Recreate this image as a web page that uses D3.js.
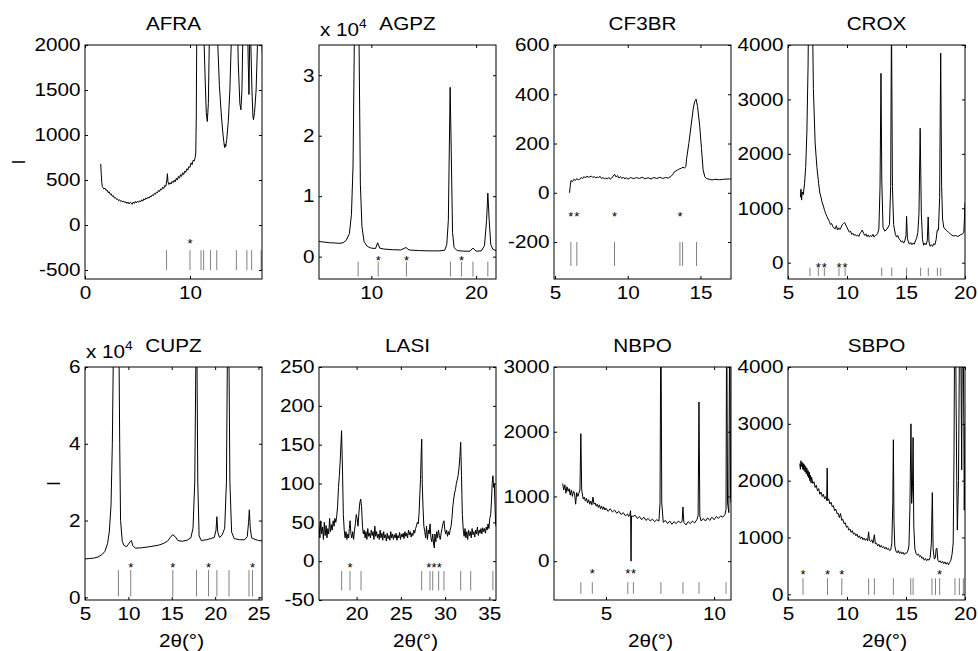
<!DOCTYPE html>
<html>
<head>
<meta charset="utf-8">
<title>diffraction patterns, 8 samples</title>
<script src="https://d3js.org/d3.v7.min.js"></script>
<style>
body{ margin:0; background:#fff; }
svg text{ font-family:"Liberation Sans", Arial, sans-serif; fill:#000; }
</style>
</head>
<body>
<svg class="chart" width="978" height="651"></svg>
<script>

//sample names, in reading order
var names = ["AFRA", "AGPZ", "CF3BR", "CROX", "CUPZ", "LASI", "NBPO", "SBPO"];

//measured patterns: [2theta, intensity]
var afraCurve = [[1.5,680],[1.55,560],[1.6,470],[1.65,430],[1.7,415],[1.8,400],[1.9,410],[2.0,385],[2.1,390],[2.2,360],[2.3,370],[2.4,340],[2.5,345],[2.6,320],[2.7,325],[2.8,300],[2.9,305],[3.0,285],[3.1,290],[3.2,270],[3.3,280],[3.4,262],[3.5,270],[3.6,255],[3.7,265],[3.8,248],[3.9,258],[4.0,240],[4.1,255],[4.2,235],[4.3,252],[4.4,245],[4.5,230],[4.6,255],[4.7,240],[4.8,262],[4.9,245],[5.0,265],[5.1,252],[5.2,270],[5.3,258],[5.4,280],[5.5,265],[5.6,290],[5.7,278],[5.8,300],[5.9,290],[6.0,310],[6.1,298],[6.2,320],[6.3,312],[6.4,335],[6.5,325],[6.6,350],[6.7,340],[6.8,365],[6.9,358],[7.0,385],[7.1,372],[7.2,400],[7.3,390],[7.4,420],[7.5,405],[7.6,440],[7.7,430],[7.8,500],[7.85,570],[7.9,480],[8.0,450],[8.1,470],[8.2,455],[8.3,485],[8.4,470],[8.5,500],[8.6,480],[8.7,520],[8.8,500],[8.9,540],[9.0,520],[9.1,560],[9.2,540],[9.3,580],[9.4,560],[9.5,600],[9.6,585],[9.7,625],[9.8,610],[9.9,650],[10.0,640],[10.1,690],[10.2,670],[10.3,720],[10.4,710],[10.5,750],[10.55,800],[10.6,1200],[10.65,2200],[10.75,5000],[10.9,3200],[11.1,2600],[11.3,2200],[11.45,1600],[11.55,1250],[11.65,1150],[11.75,1350],[11.85,2100],[12.0,5000],[12.3,4000],[12.5,2600],[12.65,2000],[12.8,1550],[13.0,1200],[13.15,1000],[13.25,900],[13.3,860],[13.35,900],[13.4,870],[13.5,950],[13.65,1150],[13.8,1500],[13.95,2100],[14.1,4500],[14.4,3000],[14.6,1800],[14.75,1350],[14.85,1280],[14.95,1500],[15.05,2200],[15.25,5000],[15.45,2500],[15.55,1800],[15.62,1450],[15.7,2200],[15.8,2000],[15.9,1500],[16.0,1200],[16.05,1170],[16.15,1250],[16.3,1500],[16.45,2100],[16.6,4500],[16.8,2200],[16.9,1900]];
var agpzCurve = [[5.0,2500],[5.5,2400],[6.0,2300],[6.5,2250],[7.0,2200],[7.3,2300],[7.6,2700],[7.9,3800],[8.1,7000],[8.25,15000],[8.4,40000],[8.6,80000],[8.8,40000],[8.95,12000],[9.1,5000],[9.3,2500],[9.6,1700],[10.0,1400],[10.4,1350],[10.6,2300],[10.8,1400],[11.2,1250],[12.0,1150],[12.8,1100],[13.3,1500],[13.6,1100],[14.5,1000],[15.5,950],[16.5,950],[17.0,1050],[17.2,2000],[17.35,6000],[17.52,28000],[17.62,18000],[17.75,4000],[17.9,1500],[18.2,1000],[18.8,900],[19.4,900],[19.7,1400],[20.0,900],[20.5,950],[20.8,1800],[21.0,6000],[21.12,10500],[21.25,6000],[21.4,2000],[21.6,1200],[21.9,1000]];
var cf3brCurve = [[6.0,0],[6.05,30],[6.1,50],[6.2,45],[6.3,55],[6.4,50],[6.5,58],[6.6,52],[6.7,55],[6.8,62],[6.9,58],[7.0,66],[7.1,60],[7.2,68],[7.3,63],[7.4,65],[7.5,68],[7.6,62],[7.7,66],[7.8,60],[7.9,64],[8.0,62],[8.1,67],[8.2,58],[8.3,62],[8.4,57],[8.5,60],[8.6,56],[8.7,62],[8.8,55],[8.9,60],[9.0,68],[9.1,75],[9.2,64],[9.3,70],[9.4,60],[9.5,66],[9.6,58],[9.7,64],[9.8,56],[9.9,62],[10.0,55],[10.2,62],[10.4,57],[10.6,62],[10.8,58],[11.0,63],[11.2,57],[11.4,61],[11.6,56],[11.8,62],[12.0,58],[12.2,63],[12.4,58],[12.6,62],[12.8,60],[13.0,68],[13.1,75],[13.2,85],[13.3,88],[13.4,92],[13.5,95],[13.6,98],[13.7,100],[13.8,104],[13.9,100],[14.0,108],[14.05,140],[14.2,200],[14.35,270],[14.5,340],[14.6,370],[14.7,380],[14.8,350],[14.95,270],[15.07,180],[15.18,94],[15.3,65],[15.4,58],[15.6,55],[15.8,52],[16.0,55],[16.3,53],[16.6,55],[17.0,56],[17.1,56]];
var croxCurve = [[6.05,1200],[6.1,1350],[6.15,1150],[6.2,1300],[6.3,1250],[6.4,1450],[6.5,1750],[6.6,2400],[6.7,3600],[6.8,6000],[6.95,8000],[7.05,5000],[7.15,3200],[7.3,2200],[7.45,1750],[7.6,1450],[7.7,1280],[7.8,1200],[7.9,1100],[8.0,1040],[8.1,960],[8.2,900],[8.3,850],[8.4,800],[8.5,760],[8.6,700],[8.7,720],[8.8,660],[8.9,640],[9.0,620],[9.1,680],[9.2,600],[9.3,640],[9.4,610],[9.5,650],[9.6,700],[9.7,720],[9.8,740],[9.9,690],[10.0,650],[10.1,600],[10.2,560],[10.3,580],[10.4,520],[10.5,540],[10.6,500],[10.7,520],[10.8,490],[10.9,510],[11.0,480],[11.1,540],[11.2,560],[11.3,600],[11.4,540],[11.5,500],[11.6,530],[11.7,480],[11.8,510],[11.9,470],[12.0,500],[12.1,480],[12.2,520],[12.3,470],[12.4,500],[12.5,510],[12.6,540],[12.7,620],[12.8,1400],[12.88,3480],[12.95,1500],[13.05,650],[13.2,580],[13.4,620],[13.6,700],[13.7,1400],[13.77,4500],[13.85,1400],[13.95,700],[14.1,520],[14.2,470],[14.3,500],[14.4,440],[14.5,420],[14.6,380],[14.7,400],[14.8,360],[14.9,400],[15.0,500],[15.05,850],[15.12,450],[15.2,380],[15.3,340],[15.4,370],[15.5,330],[15.6,360],[15.7,340],[15.8,400],[15.9,450],[16.0,550],[16.1,900],[16.2,2470],[16.3,900],[16.4,420],[16.5,320],[16.6,360],[16.7,330],[16.8,400],[16.88,840],[16.95,380],[17.05,300],[17.15,330],[17.25,300],[17.35,350],[17.45,330],[17.55,420],[17.65,600],[17.75,600],[17.85,1200],[17.94,3850],[18.02,1400],[18.1,800],[18.2,650],[18.3,620],[18.4,600],[18.6,560],[18.8,520],[19.0,490],[19.2,500],[19.4,480],[19.6,510],[19.8,530],[19.9,560],[19.95,800],[20.0,1100]];
var cupzCurve = [[5.0,10000],[5.5,10100],[6.0,10200],[6.5,10500],[7.0,11200],[7.3,12000],[7.6,14000],[7.8,17000],[8.0,24000],[8.15,40000],[8.3,70000],[8.6,90000],[8.9,70000],[9.0,40000],[9.1,20000],[9.3,14500],[9.5,13500],[9.8,13200],[10.0,13800],[10.2,14500],[10.35,14800],[10.5,13500],[10.8,12800],[11.5,12900],[12.5,13200],[13.5,13600],[14.0,14000],[14.5,14600],[14.8,15500],[15.1,16300],[15.4,15800],[15.7,14800],[16.2,14600],[16.8,14900],[17.2,15500],[17.45,18000],[17.65,30000],[17.85,80000],[18.0,30000],[18.15,16000],[18.4,14800],[19.0,15000],[19.5,15300],[19.9,15600],[20.1,17500],[20.2,21000],[20.3,17000],[20.5,15600],[20.8,16200],[21.1,18000],[21.3,30000],[21.5,90000],[21.7,30000],[21.9,17000],[22.2,15300],[22.8,15000],[23.4,15000],[23.7,15800],[23.85,19500],[23.94,22800],[24.05,18000],[24.2,15500],[24.6,15100],[25.0,14800],[25.4,14700]];
var lasiCurve = [[15.75,48],[15.85,30],[15.95,52],[16.05,35],[16.15,44],[16.25,28],[16.35,50],[16.45,33],[16.55,46],[16.65,30],[16.75,42],[16.85,35],[16.95,55],[17.05,38],[17.15,47],[17.25,40],[17.35,52],[17.45,45],[17.55,55],[17.65,50],[17.75,58],[17.85,70],[17.95,95],[18.05,110],[18.15,130],[18.3,168],[18.4,120],[18.5,60],[18.6,40],[18.7,30],[18.8,38],[18.9,28],[19.0,35],[19.1,30],[19.18,42],[19.26,52],[19.36,35],[19.46,30],[19.56,38],[19.66,28],[19.76,40],[19.86,48],[19.96,60],[20.06,55],[20.16,45],[20.26,62],[20.36,75],[20.46,80],[20.56,70],[20.66,45],[20.76,35],[20.86,40],[20.96,30],[21.06,38],[21.16,28],[21.26,42],[21.36,32],[21.46,36],[21.56,30],[21.66,40],[21.76,33],[21.86,38],[21.96,28],[22.06,45],[22.16,32],[22.26,38],[22.36,30],[22.46,35],[22.56,28],[22.66,40],[22.76,30],[22.86,36],[22.96,27],[23.06,38],[23.16,30],[23.26,34],[23.36,26],[23.46,36],[23.56,29],[23.66,33],[23.76,27],[23.86,38],[23.96,30],[24.06,35],[24.16,28],[24.26,34],[24.36,30],[24.46,36],[24.56,27],[24.66,33],[24.76,30],[24.86,37],[24.96,28],[25.06,35],[25.16,31],[25.26,36],[25.36,29],[25.46,38],[25.56,32],[25.66,36],[25.76,30],[25.86,40],[25.96,34],[26.06,38],[26.16,31],[26.26,36],[26.36,33],[26.46,40],[26.56,36],[26.66,42],[26.76,45],[26.86,50],[26.96,48],[27.06,62],[27.14,85],[27.22,105],[27.3,140],[27.36,157],[27.42,100],[27.5,70],[27.6,45],[27.7,38],[27.8,30],[27.9,45],[28.0,28],[28.1,40],[28.2,35],[28.3,48],[28.4,30],[28.5,25],[28.6,35],[28.7,22],[28.78,17],[28.85,35],[28.95,25],[29.05,38],[29.15,30],[29.25,40],[29.35,33],[29.45,28],[29.55,36],[29.65,42],[29.75,48],[29.87,52],[29.97,40],[30.07,35],[30.17,40],[30.27,32],[30.37,38],[30.47,34],[30.57,40],[30.67,45],[30.77,55],[30.87,70],[30.97,80],[31.07,88],[31.17,92],[31.27,100],[31.37,105],[31.47,110],[31.57,120],[31.67,135],[31.76,153],[31.85,110],[31.95,60],[32.05,40],[32.15,32],[32.25,42],[32.35,30],[32.45,38],[32.55,28],[32.65,40],[32.75,33],[32.85,38],[32.95,30],[33.05,42],[33.15,34],[33.25,38],[33.35,31],[33.45,40],[33.55,35],[33.65,44],[33.75,33],[33.85,40],[33.95,36],[34.05,42],[34.15,35],[34.25,43],[34.35,38],[34.45,42],[34.55,36],[34.65,44],[34.75,40],[34.85,48],[34.95,42],[35.05,55],[35.15,60],[35.25,80],[35.32,100],[35.4,110],[35.48,95],[35.56,100],[35.64,70],[35.7,50],[35.75,45]];
var nbpoCurve = [[3.0,1200],[3.05,1100],[3.1,1180],[3.15,1050],[3.2,1150],[3.25,1080],[3.3,1120],[3.35,1020],[3.4,1100],[3.45,1000],[3.5,1080],[3.55,1050],[3.6,880],[3.65,1060],[3.7,1000],[3.75,1050],[3.8,1100],[3.84,1970],[3.88,1100],[3.95,960],[4.0,990],[4.05,930],[4.1,970],[4.15,900],[4.2,950],[4.25,880],[4.3,930],[4.35,870],[4.4,990],[4.45,880],[4.5,900],[4.55,850],[4.6,880],[4.65,830],[4.7,870],[4.75,810],[4.8,850],[4.85,800],[4.9,840],[4.95,790],[5.0,820],[5.1,770],[5.2,810],[5.3,760],[5.4,790],[5.5,740],[5.6,770],[5.7,720],[5.8,750],[5.9,700],[6.0,730],[6.05,690],[6.1,720],[6.14,780],[6.16,0],[6.18,700],[6.25,690],[6.35,710],[6.45,660],[6.55,690],[6.65,640],[6.75,680],[6.85,630],[6.95,660],[7.05,620],[7.15,650],[7.25,610],[7.35,640],[7.45,620],[7.5,900],[7.54,4000],[7.58,900],[7.65,600],[7.75,630],[7.85,580],[7.95,620],[8.05,570],[8.15,610],[8.25,580],[8.35,620],[8.45,590],[8.52,620],[8.56,836],[8.6,600],[8.7,560],[8.8,610],[8.9,580],[9.0,620],[9.1,590],[9.2,640],[9.26,700],[9.3,2460],[9.34,700],[9.4,620],[9.5,660],[9.6,620],[9.7,670],[9.8,630],[9.9,680],[10.0,640],[10.1,690],[10.2,660],[10.3,700],[10.4,680],[10.5,720],[10.55,800],[10.58,4000],[10.62,900],[10.68,750],[10.72,4000],[10.76,1000],[10.78,900]];
var sbpoCurve = [[6.0,2300],[6.05,2200],[6.1,2350],[6.15,2250],[6.2,2320],[6.25,2200],[6.3,2300],[6.35,2180],[6.4,2280],[6.45,2150],[6.5,2250],[6.55,2120],[6.6,2220],[6.65,2080],[6.7,2180],[6.75,2050],[6.8,2150],[6.85,2000],[6.9,2100],[6.95,1960],[7.0,2060],[7.1,1950],[7.2,1980],[7.3,1880],[7.4,1920],[7.5,1820],[7.6,1860],[7.7,1760],[7.8,1800],[7.9,1720],[8.0,1760],[8.1,1680],[8.2,1720],[8.28,1650],[8.32,2220],[8.36,1650],[8.45,1680],[8.55,1590],[8.65,1620],[8.75,1540],[8.85,1560],[8.95,1470],[9.05,1500],[9.15,1420],[9.25,1430],[9.35,1350],[9.45,1420],[9.55,1300],[9.65,1320],[9.75,1240],[9.85,1260],[9.95,1180],[10.05,1200],[10.15,1130],[10.25,1150],[10.35,1090],[10.45,1120],[10.55,1060],[10.65,1080],[10.75,1030],[10.85,1060],[10.95,1000],[11.05,1030],[11.15,980],[11.25,1010],[11.35,960],[11.45,990],[11.55,950],[11.65,980],[11.75,940],[11.83,1100],[11.9,950],[12.0,930],[12.1,960],[12.2,900],[12.32,1050],[12.4,890],[12.5,900],[12.6,850],[12.7,880],[12.8,830],[12.9,860],[13.0,820],[13.1,840],[13.2,800],[13.3,830],[13.4,790],[13.5,810],[13.6,770],[13.7,780],[13.8,900],[13.88,1600],[13.93,2720],[13.98,1300],[14.05,850],[14.15,760],[14.25,730],[14.35,770],[14.45,720],[14.55,750],[14.65,710],[14.75,740],[14.85,700],[14.95,730],[15.05,720],[15.15,760],[15.25,850],[15.33,1500],[15.42,3000],[15.48,1600],[15.55,1900],[15.6,2760],[15.66,1200],[15.75,800],[15.85,720],[15.95,690],[16.05,710],[16.15,660],[16.25,680],[16.35,630],[16.45,650],[16.55,600],[16.65,630],[16.75,590],[16.85,620],[16.95,600],[17.05,650],[17.15,900],[17.23,1790],[17.3,800],[17.4,620],[17.5,650],[17.55,800],[17.62,810],[17.7,600],[17.8,570],[17.9,590],[18.0,550],[18.1,580],[18.2,540],[18.3,570],[18.4,530],[18.5,560],[18.6,520],[18.7,560],[18.8,600],[18.9,700],[19.0,900],[19.07,2500],[19.15,6000],[19.3,2000],[19.35,1130],[19.45,2000],[19.58,6000],[19.66,4000],[19.72,2190],[19.8,6000],[19.9,3000],[19.94,1480],[20.0,3000]];

//calculated reflection positions (grey marks) and the ones flagged with *
var afraRefl = [7.77, 10.0, 11.05, 11.3, 11.95, 12.55, 14.42, 15.42, 15.87, 16.78];
var afraStars = [10.0];
var agpzRefl = [8.74, 10.65, 13.35, 17.55, 18.6, 19.7, 21.12];
var agpzStars = [10.65, 13.35, 18.6];
var cf3brRefl = [6.09, 6.5, 9.09, 13.59, 13.77, 14.73];
var cf3brStars = [6.09, 6.5, 9.09, 13.59];
var croxRefl = [6.86, 7.57, 8.08, 9.32, 9.84, 12.94, 13.79, 15.05, 16.24, 16.89, 17.66, 17.94];
var croxStars = [7.57, 8.08, 9.32, 9.84];
var cupzRefl = [8.85, 10.27, 15.12, 17.85, 19.24, 20.2, 21.6, 23.9, 24.3];
var cupzStars = [10.27, 15.12, 19.24, 24.3];
var lasiRefl = [18.31, 19.25, 20.5, 27.35, 28.29, 28.6, 29.27, 29.87, 31.76, 32.89, 35.4];
var lasiStars = [19.25, 28.15, 28.75, 29.35];
var nbpoRefl = [3.84, 4.37, 6.01, 6.27, 7.54, 8.56, 9.3, 10.55];
var nbpoStars = [4.37, 6.01, 6.27];
var sbpoRefl = [6.27, 8.35, 9.56, 11.83, 12.32, 13.93, 15.4, 15.6, 17.2, 17.5, 17.85, 19.15, 19.52, 19.86];
var sbpoStars = [6.27, 8.35, 9.56, 17.85];

//axis tick values
var afraXTicks = [0, 10], afraYTicks = [-500, 0, 500, 1000, 1500, 2000];
var agpzXTicks = [10, 20], agpzYTicks = [0, 10000, 20000, 30000];
var cf3brXTicks = [5, 10, 15], cf3brYTicks = [-200, 0, 200, 400, 600];
var croxXTicks = [5, 10, 15, 20], croxYTicks = [0, 1000, 2000, 3000, 4000];
var cupzXTicks = [5, 10, 15, 20, 25], cupzYTicks = [0, 20000, 40000, 60000];
var lasiXTicks = [20, 25, 30, 35], lasiYTicks = [-50, 0, 50, 100, 150, 200, 250];
var nbpoXTicks = [5, 10], nbpoYTicks = [0, 1000, 2000, 3000];
var sbpoXTicks = [5, 10, 15, 20], sbpoYTicks = [0, 1000, 2000, 3000, 4000];

//panel table built from the arrays above
var panels = [
	{curve: afraCurve, refl: afraRefl, stars: afraStars, xTicks: afraXTicks, yTicks: afraYTicks, xDomain: [0, 16.86], yDomain: [-600, 2000], reflRange: [-500, -280], starLevel: -165},
	{curve: agpzCurve, refl: agpzRefl, stars: agpzStars, xTicks: agpzXTicks, yTicks: agpzYTicks, xDomain: [5, 21.9], yDomain: [-3700, 35000], reflRange: [-3300, -830], starLevel: -100, exp: 4},
	{curve: cf3brCurve, refl: cf3brRefl, stars: cf3brStars, xTicks: cf3brXTicks, yTicks: cf3brYTicks, xDomain: [4.93, 17.1], yDomain: [-350, 600], reflRange: [-297, -200], starLevel: -81},
	{curve: croxCurve, refl: croxRefl, stars: croxStars, xTicks: croxXTicks, yTicks: croxYTicks, xDomain: [5, 20], yDomain: [-300, 4000], reflRange: [-245, -92], starLevel: -31},
	{curve: cupzCurve, refl: cupzRefl, stars: cupzStars, xTicks: cupzXTicks, yTicks: cupzYTicks, xDomain: [5, 25.4], yDomain: [-700, 60000], reflRange: [200, 7100], starLevel: 8800, exp: 4},
	{curve: lasiCurve, refl: lasiRefl, stars: lasiStars, xTicks: lasiXTicks, yTicks: lasiYTicks, xDomain: [15.75, 35.75], yDomain: [-50, 250], reflRange: [-37.6, -12.8], starLevel: -3.5},
	{curve: nbpoCurve, refl: nbpoRefl, stars: nbpoStars, xTicks: nbpoXTicks, yTicks: nbpoYTicks, xDomain: [2.6, 10.78], yDomain: [-600, 3000], reflRange: [-504, -325], starLevel: -144},
	{curve: sbpoCurve, refl: sbpoRefl, stars: sbpoStars, xTicks: sbpoXTicks, yTicks: sbpoYTicks, xDomain: [5, 20], yDomain: [-100, 4000], reflRange: [-12, 282], starLevel: 415}
];

//layout
var lefts = [85, 319, 554, 788];
var tops = [45, 367];
var heights = [234, 233];
var width = 177;
var stretch = "scale(1.15,1)";   //the picture's text is a bit wider than Arial

var svg = d3.select(".chart");

panels.forEach(function(p, i){
	var col = i % 4, row = Math.floor(i / 4);
	var h = heights[row];
	var g = svg.append("g")
		.attr("transform", "translate(" + lefts[col] + "," + tops[row] + ")");

	var x = d3.scaleLinear().domain(p.xDomain).range([0, width]);
	var y = d3.scaleLinear().domain(p.yDomain).range([h, 0]);

	g.append("clipPath").attr("id", "clip" + i)
		.append("rect").attr("width", width).attr("height", h);

	//pattern
	var line = d3.line()
		.x(function(d){ return x(d[0]); })
		.y(function(d){ return y(d[1]); });
	g.append("path")
		.datum(p.curve)
		.attr("clip-path", "url(#clip" + i + ")")
		.attr("fill", "none")
		.attr("stroke", "#000")
		.attr("stroke-width", 1)
		.attr("d", line);

	//reflection marks
	g.selectAll(".refl")
		.data(p.refl)
		.enter().append("line")
		.attr("class", "refl")
		.attr("x1", function(d){ return x(d); })
		.attr("x2", function(d){ return x(d); })
		.attr("y1", y(p.reflRange[0]))
		.attr("y2", y(p.reflRange[1]))
		.attr("stroke", "#808080")
		.attr("stroke-width", 1);

	g.selectAll(".star")
		.data(p.stars)
		.enter().append("text")
		.attr("class", "star")
		.attr("x", function(d){ return x(d); })
		.attr("y", y(p.starLevel) + 8)
		.attr("text-anchor", "middle")
		.style("font-size", "13px")
		.text("*");

	//axes, ticks pointing inwards on all four sides
	var fmt = p.exp ? function(d){ return String(d / Math.pow(10, p.exp)); } : function(d){ return String(d); };
	var bottom = d3.axisBottom(x).tickValues(p.xTicks).tickSizeInner(-3).tickSizeOuter(0).tickPadding(7).tickFormat(function(d){ return String(d); });
	var left = d3.axisLeft(y).tickValues(p.yTicks).tickSizeInner(-3).tickSizeOuter(0).tickPadding(4).tickFormat(fmt);
	var topAx = d3.axisTop(x).tickValues(p.xTicks).tickSizeInner(-3).tickSizeOuter(0).tickFormat("");
	var rightAx = d3.axisRight(y).tickValues(p.yTicks).tickSizeInner(-3).tickSizeOuter(0).tickFormat("");

	g.append("g").attr("transform", "translate(0," + h + ")").call(bottom);
	g.append("g").call(left);
	g.append("g").call(topAx);
	g.append("g").attr("transform", "translate(" + width + ",0)").call(rightAx);

	g.selectAll(".domain").remove();
	g.selectAll(".tick line").attr("stroke", "#000");
	g.selectAll(".tick text")
		.style("font-size", "18px")
		.style("font-family", "'Liberation Sans', Arial, sans-serif")
		.attr("fill", "#000")
		.attr("transform", stretch);

	g.append("rect")
		.attr("width", width)
		.attr("height", h)
		.attr("fill", "none")
		.attr("stroke", "#000")
		.attr("stroke-width", 1);

	//title
	g.append("text")
		.attr("transform", "translate(" + (width / 2) + ",-15) " + stretch)
		.attr("text-anchor", "middle")
		.style("font-size", "18px")
		.text(names[i]);

	//x 10^4 multiplier
	if(p.exp){
		var t = g.append("text")
			.attr("transform", "translate(1,-9) " + stretch)
			.style("font-size", "18px");
		t.append("tspan").text("x 10");
		t.append("tspan").attr("dy", -8).style("font-size", "12px").text(p.exp);
	}

	if(row === 1){
		g.append("text")
			.attr("transform", "translate(" + (width / 2 + 8) + "," + (h + 47) + ") " + stretch)
			.attr("text-anchor", "middle")
			.style("font-size", "18px")
			.text("2θ(°)");
	}
	if(col === 0){
		g.append("text")
			.attr("transform", "translate(" + (row === 0 ? -60 : -25) + "," + (h / 2) + ") rotate(-90)")
			.attr("text-anchor", "middle")
			.style("font-size", "18px")
			.text("I");
	}
});
</script>
</body>
</html>
